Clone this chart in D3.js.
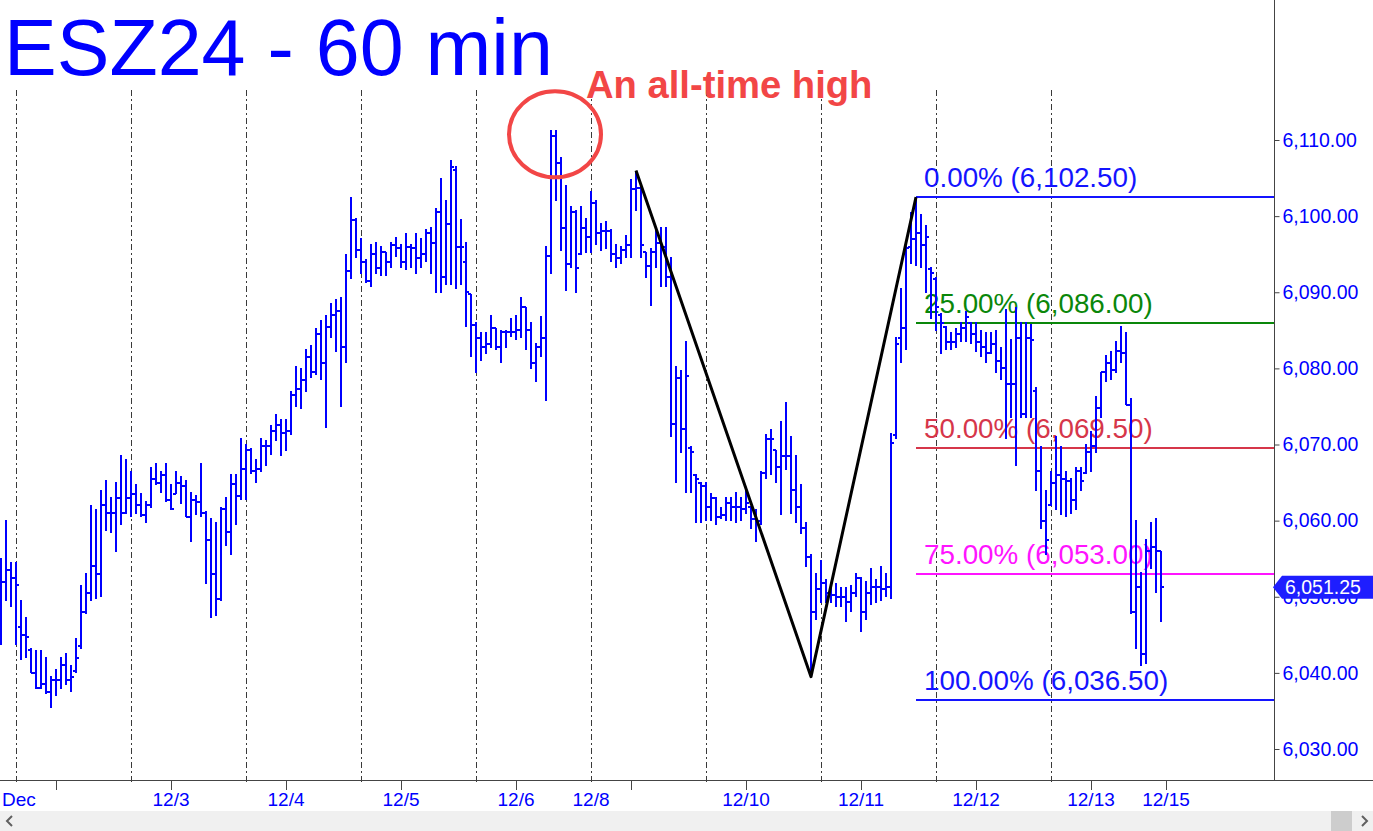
<!DOCTYPE html>
<html><head><meta charset="utf-8">
<script src="https://cdn.jsdelivr.net/npm/d3@7"></script>
<style>
html,body{margin:0;padding:0;background:#fff;overflow:hidden}
svg{display:block;font-family:"Liberation Sans",Arial,Helvetica,sans-serif}
</style>
</head><body>
<svg id="chart" width="1373" height="831"></svg>
<script>
// ---- DATA (ESZ24, 60-minute bars; bar index 0 = last bars of 11/29) ----
const highs = [
6055,6060,6054.5,
6054.5,6049.5,6047.25,6043.25,6043,6043,6042,6039.5,6040.5,6042,6042.5,6041,6044.5,6051.5,6053,6062,6061.5,6064,6065.25,6063,6065,6068.5,6068,
6066.5,6064.75,6063.5,6062.5,6067,6067.5,6066.5,6067.5,6064.75,6066.5,6065.75,6065.25,6063.75,6063.25,6067.5,6061.25,6060.25,6059.75,6061.75,6063,6066,6066,6070.75,
6070,6069.5,6068,6070.75,6070.5,6072.5,6074,6073.25,6073.25,6077,6080.25,6080,6082.5,6083,6085.25,6086.25,6087,6088.5,6089,6089.25,6095,6102.5,6099.75,
6097,6094.25,6096.25,6096.5,6096,6095.25,6096.5,6097.25,6096.25,6097.75,6096.25,6097.75,6097,6098.25,6098.5,6101,6105,6102,6107.25,6106.5,6099.5,6096.5,6089.75,
6086,6084.75,6084.75,6087,6085.25,6085,6085,6086.5,6087,6089.25,6088,6086,6083.25,6086.75,6096,6111.25,6111.25,6107.75,6104,6101.25,6100.75,6101.25,6099.75,
6103.25,6102,6099,6099.25,6098.25,6096.25,6096,6097.5,6104.75,6105.75,6103.75,6095.25,6095.75,6098.25,6098.5,6098.5,6094.5,6080.25,6079.75,6083.5,6069.75,6066,6065,
6065,6063.5,6063,6061.75,6063,6063,6063.75,6063,6064.25,6061.75,6061.5,6066.5,6071.25,6072,6069.25,6073,6075.5,6071,6068.5,6064.75,6059.75,6055.5,6053,
6054.75,6052.25,6051.75,6051.75,6051.25,6051.25,6051.5,6053,6052.5,6052,6053.75,6052.25,6054,6053,6071.5,6084,6090.5,6096,6100.5,6102.5,6100.25,6098.75,6093.25,
6092,6087.25,6085.5,6084.75,6085.25,6086,6087.5,6086,6086,6085,6084.75,6084.75,6085,6082.75,6087.75,6083.75,6088,6086,6086,6085.75,6077.5,6069.75,6064,
6066.5,6071,6069.75,6066.5,6065.5,6067,6067,6070,6071.75,6076.25,6079.5,6081.75,6082.25,6083.5,6085.5,6084.75,6076,6060,6053.25,6057.5,6059.75,6060.25,6056
];
const lows = [
6043.75,6049.5,6048.75,
6043.75,6041.75,6042,6040,6038,6038,6037.25,6035.5,6037,6038,6038.5,6037.5,6040,6043.25,6047.75,6049.5,6049.75,6050,6058.75,6058.5,6056,6059.5,6061,
6060.5,6061,6060.5,6059.75,6061.75,6064.75,6063.75,6062.5,6061.5,6063.5,6062.25,6060.5,6057.25,6060.75,6060.5,6051.75,6047.25,6047.5,6049.5,6056.75,6055.5,6059.5,6062.75,
6062.75,6066.25,6065,6066.5,6067.25,6068.75,6070.5,6068.5,6069.25,6071.25,6075,6074.75,6077,6078.75,6079.25,6078.5,6072.25,6084,6082.25,6075,6080.75,6091.75,6094.5,
6092.5,6091.25,6090.75,6092.5,6092.25,6092.25,6093.25,6094.75,6093.25,6093,6093.25,6092.5,6093.25,6094,6092.5,6090,6090,6091,6091,6090.5,6091,6085.5,6081.5,
6079.5,6081,6082,6082.75,6082.5,6080.75,6082.75,6084.25,6083.75,6084,6082.5,6080,6078.25,6081.5,6075.75,6092.5,6102,6095.5,6090.25,6093.25,6090,6095,6095.25,
6095.25,6096.25,6095.5,6095.75,6094,6093.25,6093.75,6094.5,6094.5,6100.75,6094.5,6092,6088.25,6093.25,6090.75,6090.75,6071,6065,6069,6063.75,6063.75,6059.75,6059.75,
6060,6060,6059.5,6060.25,6060,6060,6059.75,6060,6061,6059,6057.25,6059.5,6065.5,6066,6065,6060.75,6066.75,6061,6059.75,6058.25,6054,6039.5,6047,
6049.25,6049.25,6049.25,6048.75,6048.75,6046.75,6048,6050,6045.5,6047,6049,6049.25,6049.5,6050,6049.75,6070.75,6080.75,6082.5,6093.75,6093.5,6093.25,6090,6086.5,
6085,6082,6082.5,6082.5,6082.75,6083.5,6083.5,6083.25,6082.25,6081.5,6080.75,6082,6079.5,6078.5,6070.75,6073.5,6067.25,6073.5,6073.5,6073.5,6064,6059,6055.5,
6062,6061.5,6060.75,6060.5,6061,6061.5,6064,6066.25,6066.5,6069,6073.5,6078.25,6078.5,6079.5,6080.75,6075.25,6047.75,6043.25,6041,6041.25,6053.75,6050.5,6046.75
];
const opens = [
6049,6052,6053.5,
6052.5,6046,6045,6043,6040,6038,6038.5,6037.5,6039,6039,6041,6039,6040.25,6043.5,6048,6050.5,6054,6053,6062,6061,6061,6063,6061,
6063,6063.5,6062,6060.75,6062,6065.5,6065,6066,6062.75,6063.5,6065,6064.5,6060.5,6062.75,6062.5,6061,6057.5,6053,6049.75,6061.5,6058.5,6064.75,6063.25,
6066.75,6069.25,6066.5,6066.75,6069.75,6069.75,6071.75,6072.5,6071.5,6071.75,6076.5,6077.25,6078.5,6081.5,6079.5,6084.5,6080.75,6085.5,6087,6087.5,6082.75,6092.75,6099.5,
6095.5,6094,6091.5,6095,6093.25,6095.25,6094,6096.25,6095.75,6094,6096,6095.75,6094.5,6095,6097.75,6096.5,6100.5,6092,6099,6106,6096,6094,6089.75,
6085.75,6084,6082.75,6083.25,6085.25,6082.75,6084.75,6084.75,6084.75,6085,6088,6085,6080.75,6082.75,6084,6094.75,6110.5,6107,6098.5,6093.75,6100.5,6095,6098.5,
6097.25,6101.75,6097.75,6098,6098,6095,6094.5,6095.5,6096.25,6103.5,6103.75,6095.25,6093.5,6095.25,6096.5,6096,6092,6072.75,6078.75,6072,6069.5,6066,6065,
6064.5,6061.75,6063,6060.5,6060.75,6062.25,6061.75,6061.75,6061.5,6061.75,6060.25,6060,6066.25,6070.75,6069.25,6067,6068.5,6068.5,6064,6061.75,6059,6055.25,6048,
6051,6051.75,6050.5,6050.25,6050,6050,6049.25,6050.5,6052.5,6048,6050.5,6051.25,6051.25,6051,6051.25,6071.25,6084,6085.25,6096,6097,6097.75,6096.25,6093,
6091.75,6087,6085.5,6083.5,6083.5,6084.5,6085.25,6086,6084.5,6083.5,6082.75,6082,6083.25,6081,6080,6078,6078,6084,6074,6084,6077,6066.5,6060,
6062,6065,6066,6065.5,6065.25,6062.75,6066.5,6066.25,6069,6069.75,6074.75,6079.5,6080.75,6079.75,6082.25,6082,6075.25,6048,6051.25,6042.5,6056,6056.5,6056
];
const closes = [
6052,6053.5,6052.5,
6051.5,6045,6044.75,6040,6038,6038.5,6037.5,6039,6039,6041,6039,6039.5,6042,6048,6050.5,6054,6053,6062,6061,6061,6063,6061,6063,
6063.5,6062,6060.75,6062,6065.5,6065,6066,6062.75,6061.5,6065,6064.5,6060.5,6062.75,6062.5,6061,6057.5,6053,6049.75,6061.5,6058.5,6064.75,6063.25,6066.75,
6069.25,6066.5,6066.75,6069.75,6069.75,6071.75,6072.5,6071.5,6071.75,6076.5,6077.25,6078.5,6081.5,6079.5,6084.5,6080.75,6085.5,6087,6087.5,6082.75,6092.75,6099.5,6095.5,
6094,6091.5,6095,6093.25,6095.25,6094,6096.25,6095.75,6094,6096,6095.75,6094.5,6095,6097.75,6096.5,6100.5,6092,6099,6106.5,6096,6096,6090,6085.75,
6084,6082.75,6083.25,6085.25,6082.75,6084.75,6084.75,6084.75,6085,6088,6085,6080.75,6082.75,6084,6094.75,6110.5,6107,6098.5,6093.75,6100.5,6093.25,6098.5,6097.25,
6101.75,6097.75,6098,6098,6095,6094.5,6095.5,6096.25,6103.5,6103.75,6096.25,6093.5,6095.25,6096.5,6096,6092,6072.75,6078.75,6072,6079,6069,6065.5,6064.5,
6061.75,6063,6060.5,6060.75,6062.25,6061.75,6061.75,6061.5,6062.25,6060.25,6060,6066.25,6070.75,6070.75,6067,6068.5,6068.5,6064,6061.75,6059,6055.25,6048,6051,
6051.75,6050.5,6050.25,6050,6050,6049.25,6050.5,6052.5,6048,6050.5,6051.25,6051.25,6051,6051.25,6070.25,6083.25,6085.25,6095.75,6097,6097.75,6096.25,6097.25,6092.5,
6088,6086,6083.5,6083.5,6084.5,6085.25,6086.75,6084.5,6083.5,6082.75,6082,6083.25,6081,6080,6078,6078,6084,6074,6084,6083.75,6066.5,6060,6057.5,
6065,6066,6065.5,6065.25,6062.75,6066.5,6065.25,6069,6069.75,6074.75,6079.5,6080.75,6079.75,6082.25,6082,6075.25,6048,6051.25,6042.5,6056,6056.5,6056,6051.25
];
const priceTicks = [6030,6040,6050,6060,6070,6080,6090,6100,6110];
const sessionStartBars = [3,26,49,72,95,118,141,164,187,210];
const timeTickBars = [11,34,57,80,103,126,149,172,195,218,233];
const dateLabelBars = [3,34,57,80,103,118,149,172,195,218,233];
const dateLabels = ["Dec","12/3","12/4","12/5","12/6","12/8","12/10","12/11","12/12","12/13","12/15"];
const swingBars = [127,162,183];
const swingPrices = [6106,6039.5,6102.5];
const fibPercents = [0,25,50,75,100];
const fibPrices = [6102.5,6086,6069.5,6053,6036.5];
const lastPrice = 6051.25;
const titleText = "ESZ24 - 60 min";
const noteText = "An all-time high";
const noteBar = 111, notePrice = 6110.75;

// ---- STYLE ----
const W = 1373, H = 831;
const plotRight = 1274, axisY = 780, plotTop = 90;
const barColor = "#0000ff";
const fibColors = ["#1414ff","#0a870a","#d6364a","#ff14ff","#1414ff"];

const svg = d3.select("#chart");
const x = d3.scaleLinear().domain([0, 254.6]).range([1, plotRight]);
const y = d3.scaleLinear().domain([6030, 6110]).range([749, 140]);
const fmt = d3.format(",.2f");

svg.append("rect").attr("width",W).attr("height",H).attr("fill","#fff");

// session separators
svg.append("g").selectAll("line").data(sessionStartBars).join("line")
  .attr("x1",d=>Math.round(x(d))+0.5).attr("x2",d=>Math.round(x(d))+0.5)
  .attr("y1",plotTop).attr("y2",axisY+5)
  .attr("stroke","#3a3a3a").attr("stroke-width",1).attr("stroke-dasharray","6,3,2,3");

// fib lines
const fibStart = x(swingBars[2]);
const fibG = svg.append("g");
fibG.selectAll("line").data(fibPrices).join("line")
  .attr("x1",fibStart).attr("x2",plotRight)
  .attr("y1",d=>Math.round(y(d))).attr("y2",d=>Math.round(y(d)))
  .attr("stroke",(d,i)=>fibColors[i]).attr("stroke-width",2);

// bars
const bars = svg.append("g").attr("shape-rendering","crispEdges").attr("stroke",barColor).attr("stroke-width",2).attr("fill","none");
const idx = d3.range(highs.length);
bars.selectAll("path").data(idx).join("path")
  .attr("d",i=>{
    const cx = Math.round(x(i));
    return `M${cx},${y(highs[i])-0.5}V${y(lows[i])+0.5}`+
           `M${cx-3},${y(opens[i])}H${cx}`+
           `M${cx},${y(closes[i])}H${cx+3}`;
  });

// fib labels
fibG.selectAll("text").data(fibPrices).join("text")
  .attr("x",fibStart+8).attr("y",d=>Math.round(y(d))-10)
  .attr("fill",(d,i)=>fibColors[i]).attr("font-size",27.8)
  .text((d,i)=>d3.format(".2f")(fibPercents[i])+"% ("+fmt(d)+")");

// swing zigzag
svg.append("path")
  .datum(d3.zip(swingBars,swingPrices))
  .attr("d",d3.line().x(d=>x(d[0])).y(d=>y(d[1])))
  .attr("fill","none").attr("stroke","#000").attr("stroke-width",3).attr("stroke-linejoin","round");

// annotation
svg.append("ellipse").attr("cx",x(noteBar)-1).attr("cy",y(notePrice))
  .attr("rx",46).attr("ry",43).attr("fill","none").attr("stroke","#f24646").attr("stroke-width",4);
svg.append("text").attr("x",586).attr("y",98).attr("fill","#f24646")
  .attr("font-size",38.2).attr("font-weight","bold").text(noteText);

// title
svg.append("text").attr("x",4).attr("y",75).attr("fill","#0000ff")
  .attr("font-size",79).text(titleText);

// right price axis
svg.append("line").attr("x1",plotRight+0.5).attr("x2",plotRight+0.5).attr("y1",0).attr("y2",axisY)
  .attr("stroke","#444").attr("stroke-width",1);
const yAxis = svg.append("g").attr("transform",`translate(${plotRight+0.5},0)`)
  .call(d3.axisRight(y).tickValues(priceTicks).tickSize(5).tickPadding(3).tickFormat(fmt));
yAxis.select(".domain").remove();
yAxis.selectAll("line").attr("stroke","#444");
yAxis.selectAll("text").attr("fill","#0000ff").attr("font-size",19.5)
  .attr("font-family","'Liberation Sans',Arial,sans-serif");

// bottom time axis
svg.append("line").attr("x1",0).attr("x2",W).attr("y1",axisY+0.5).attr("y2",axisY+0.5)
  .attr("stroke","#444").attr("stroke-width",1);
svg.append("g").selectAll("line").data(timeTickBars).join("line")
  .attr("x1",d=>Math.round(x(d))+0.5).attr("x2",d=>Math.round(x(d))+0.5)
  .attr("y1",axisY).attr("y2",axisY+10).attr("stroke","#444");
svg.append("g").selectAll("text").data(dateLabelBars).join("text")
  .attr("x",(d,i)=>i===0?2:x(d)).attr("y",axisY+26)
  .attr("text-anchor",(d,i)=>i===0?"start":"middle")
  .attr("fill","#0000ff").attr("font-size",19)
  .text((d,i)=>dateLabels[i]);

// last price tag
const ly = y(lastPrice);
svg.append("path")
  .attr("d",`M${plotRight-1},${ly}L${plotRight+8},${ly-11.5}H${W}V${ly+11.5}H${plotRight+8}Z`)
  .attr("fill","#1e1eff");
svg.append("text").attr("x",plotRight+11).attr("y",ly).attr("dy","0.35em")
  .attr("fill","#fff").attr("font-size",19.5).text(fmt(lastPrice));

// scrollbar strip
svg.append("rect").attr("x",0).attr("y",811).attr("width",W).attr("height",20).attr("fill","#f0f0f0");
svg.append("rect").attr("x",1331).attr("y",811).attr("width",21).attr("height",20).attr("fill","#cdcdcd");
svg.append("path").attr("d","M12,816L7,821L12,826").attr("fill","none").attr("stroke","#606060").attr("stroke-width",2);
svg.append("path").attr("d","M1362,816L1367,821L1362,826").attr("fill","none").attr("stroke","#606060").attr("stroke-width",2);
</script>
</body></html>
